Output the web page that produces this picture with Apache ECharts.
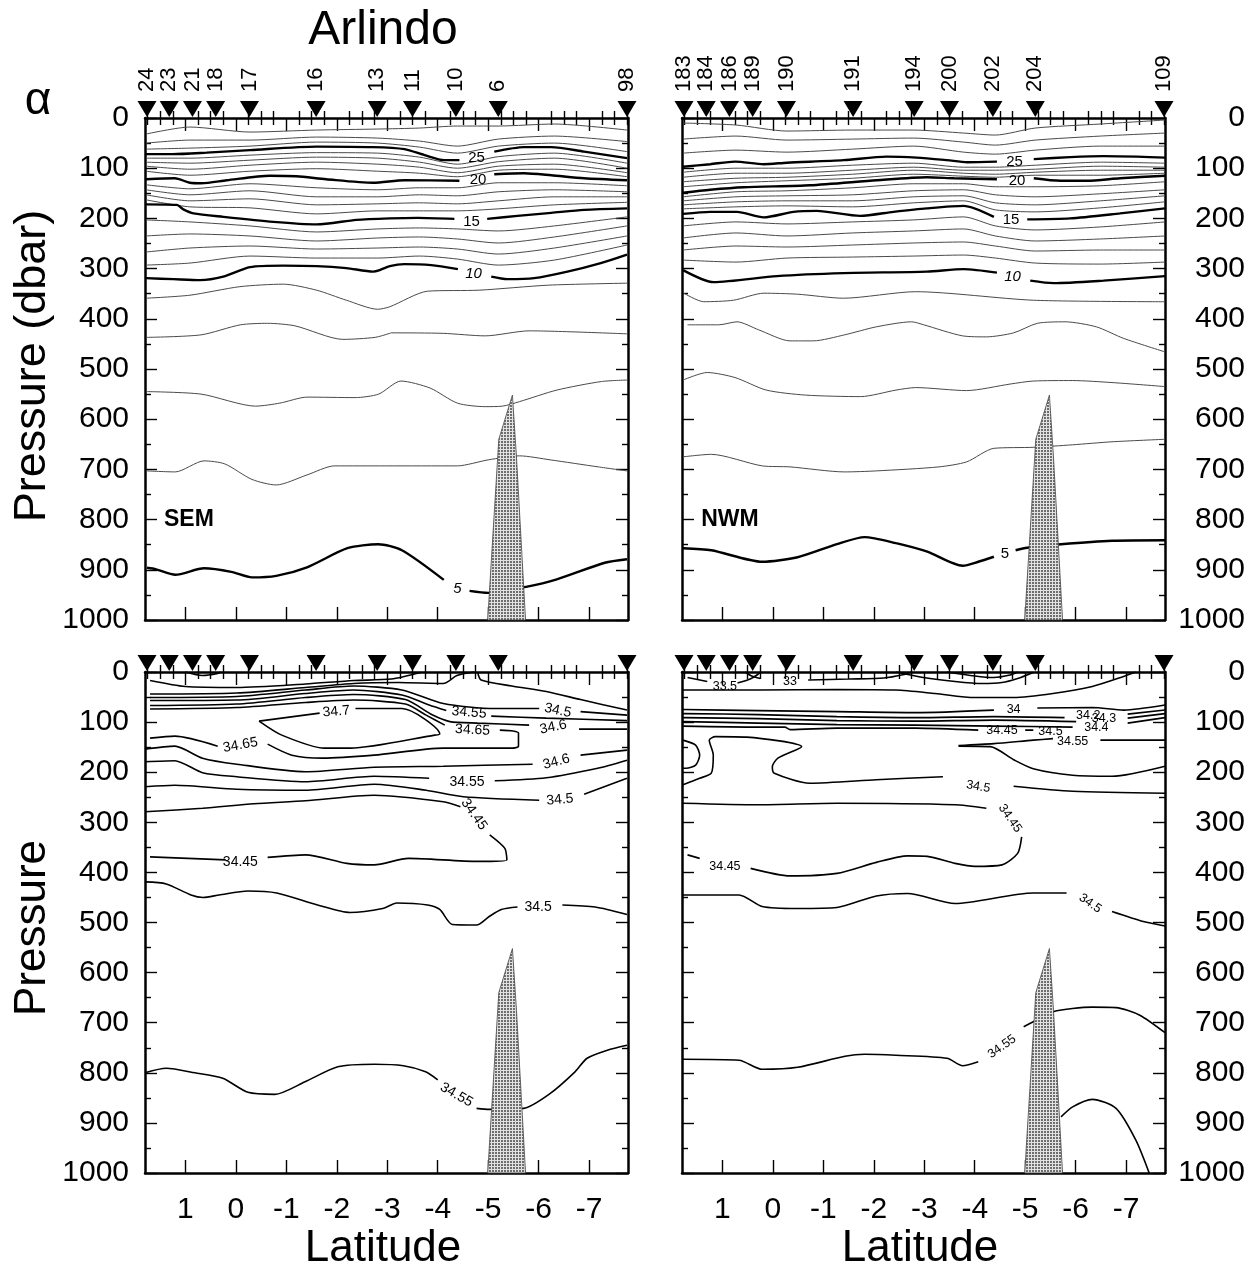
<!DOCTYPE html>
<html><head><meta charset="utf-8">
<script src="https://cdn.jsdelivr.net/npm/echarts@6/dist/echarts.min.js"></script>
<style>html,body{margin:0;padding:0;background:#fff}#c{width:1257px;height:1270px}</style>
</head><body><div id="c"></div>
<script>
// ---------------- DATA ----------------
const LAT_MIN = -7.77, LAT_MAX = 1.8;
const latTickValues = [1, 0, -1, -2, -3, -4, -5, -6, -7];

const stationLat = [1.76, 1.32, 0.86, 0.40, -0.27, -1.59, -2.80, -3.50, -4.36, -5.20, -7.75];
const stationsSEM = ['24', '23', '21', '18', '17', '16', '13', '11', '10', '6', '98'];
const stationsNWM = ['183', '184', '186', '189', '190', '191', '194', '200', '202', '204', '109'];

// sill (topography)
const topoLat = [-4.99, -5.21, -5.48, -5.56, -5.74];
const topoP = [1000, 640, 552, 675, 1000];

// ---- Temperature, SEM (top-left) ----
const tl25 = [[1.78,72],[1.25,72],[0.58,69],[-0.28,64],[-1.60,57],[-2.71,58],[-3.34,62],[-3.74,74],[-4.13,84],[-4.43,84],null,[-5.12,67],[-5.71,58],[-6.25,58],[-6.90,67],[-7.75,80]];
const tl20 = [[1.78,122],[1.21,120],[0.91,129],[0.68,130],[0.18,124],[-0.67,115],[-1.20,116],[-1.79,122],[-2.72,129],[-3.34,124],[-4.43,125],null,[-5.12,112],[-5.71,110],[-6.25,114],[-6.90,120],[-7.75,124]];
const tl15 = [[1.78,172],[1.17,173],[1.04,182],[0.84,190],[0.25,197],[-0.74,207],[-1.60,212],[-2.39,203],[-3.05,200],[-3.60,199],[-4.33,201],null,[-4.98,201],[-5.58,195],[-6.25,189],[-6.90,183],[-7.75,180]];
const tl10 = [[1.78,319],[1.24,321],[0.71,323],[0.25,316],[-0.28,297],[-0.94,294],[-1.60,295],[-2.19,299],[-2.72,306],[-2.85,303],[-3.05,295],[-3.34,291],[-3.87,293],[-4.40,301],null,[-5.06,316],[-5.38,321],[-5.91,319],[-6.57,306],[-7.23,289],[-7.75,272]];
const tl5 = [[1.76,896],[1.58,899],[1.20,910],[0.63,897],[0.09,904],[-0.32,915],[-0.80,912],[-1.41,895],[-2.21,857],[-2.82,849],[-3.29,861],[-4.12,920],null,[-4.63,942],[-5.00,946],[-5.75,934],[-6.36,919],[-7.31,886],[-7.75,879]];
const tl9 = [[1.78,359],[0.91,353],[-0.08,336],[-0.94,331],[-1.60,343],[-2.19,363],[-2.81,381],[-3.05,376],[-3.80,345],[-4.82,343],[-6.19,333],[-7.77,329]];
const tl8 = [[1.76,437],[0.69,432],[-0.09,412],[-0.63,409],[-1.17,414],[-2.12,441],[-2.76,437],[-3.05,429],[-3.08,428],[-4.11,429],[-4.94,434],[-5.81,424],[-7.75,430]];
const tl7 = [[1.76,545],[0.69,550],[-0.39,574],[-0.87,568],[-1.41,556],[-2.36,557],[-2.83,550],[-3.27,524],[-3.85,538],[-4.39,568],[-4.94,575],[-5.28,574],[-5.62,565],[-6.36,542],[-7.24,525],[-7.75,522]];
const tl6 = [[1.76,703],[1.20,705],[0.63,683],[0.22,689],[-0.32,720],[-0.80,731],[-1.41,711],[-1.95,693],[-2.97,693],[-4.39,693],[-5.00,681],[-5.62,673],[-6.23,681],[-7.18,695],[-7.75,703]];
// thin isotherms read at fixed latitudes
const colsTL = [1.78, 0.91, -0.28, -1.60, -2.81, -3.64, -4.39, -5.20, -6.31, -7.75];
const tl28 = [32,18,28,24,22,20,16,16,12,24];
const tl27 = [50,44,44,38,40,46,56,42,36,47];
const tl26 = [62,60,56,48,50,58,70,56,50,67];
const tl24 = [80,80,74,69,70,78,92,77,70,90];
const tl23 = [88,90,84,78,80,88,100,87,80,100];
const tl22 = [96,102,94,88,92,98,109,96,92,109];
const tl21 = [106,114,106,101,106,110,117,104,102,117];
const tl19 = [133,141,131,139,143,139,139,129,129,135];
const tl18 = [143,153,145,157,157,153,155,147,143,147];
const tl17 = [153,165,161,173,171,169,171,165,157,157];
const tl16 = [163,177,179,191,185,185,185,181,173,168];
const tl14 = [203,207,215,227,221,219,221,225,215,197];
const tl13 = [235,231,235,245,239,237,241,249,237,215];
const tl12 = [267,259,255,261,259,257,261,271,259,235];
const tl11 = [293,289,275,279,279,275,281,293,283,253];
const tlLabels = [[-4.77,80,'25'],[-4.80,123,'20'],[-4.67,206,'15'],[-4.71,311,'10',0,'italic'],[-4.39,937,'5',0,'italic']];

// ---- Temperature, NWM (top-right) ----
const tr25 = [[1.78,97],[1.24,92],[0.75,87],[0.18,92],[-0.28,89],[-1.40,84],[-2.25,77],[-2.85,79],[-3.45,84],[-3.85,88],[-4.44,87],null,[-5.17,82],[-5.89,78],[-6.55,76],[-7.21,77],[-7.77,79]];
const tr20 = [[1.78,149],[1.24,143],[0.58,138],[-0.74,134],[-2.06,124],[-3.05,118],[-3.59,120],[-4.44,122],null,[-5.17,120],[-5.70,125],[-6.22,125],[-6.88,120],[-7.77,115]];
const tr15 = [[1.78,191],[1.24,187],[0.71,187],[0.18,198],[-0.41,187],[-0.87,185],[-1.73,195],[-2.39,187],[-3.05,180],[-3.78,175],[-4.38,197],null,[-5.04,202],[-5.89,200],[-6.88,190],[-7.77,180]];
const tr10 = [[1.78,303],[1.17,327],[-0.08,315],[-1.40,309],[-3.05,306],[-3.78,301],[-4.44,308],null,[-5.10,324],[-5.56,329],[-6.55,324],[-7.77,315]];
const tr5 = [[1.78,857],[1.22,861],[0.21,884],[-0.49,875],[-1.27,849],[-1.82,835],[-2.44,847],[-3.06,864],[-3.76,892],[-4.07,884],[-4.38,874],null,[-4.81,861],[-5.04,856],[-5.71,849],[-6.72,842],[-7.77,841]];
const tr9 = [[1.78,348],[1.37,366],[0.78,363],[0.18,349],[-0.49,351],[-1.40,359],[-2.83,346],[-5.16,363],[-7.77,366]];
const tr8 = [[1.69,412],[1.07,412],[0.71,406],[0.28,422],[-0.34,444],[-0.80,444],[-1.42,432],[-2.05,416],[-2.75,406],[-2.99,412],[-3.76,434],[-4.23,436],[-4.77,428],[-5.24,409],[-5.79,406],[-6.41,416],[-6.95,439],[-7.77,466]];
const tr7 = [[1.78,522],[1.30,507],[0.75,517],[0.13,542],[-0.65,552],[-1.74,555],[-2.44,542],[-2.83,537],[-3.84,543],[-4.70,530],[-5.16,524],[-5.94,523],[-6.72,527],[-7.77,535]];
const tr6 = [[1.78,675],[1.22,670],[0.21,693],[-0.34,695],[-1.42,705],[-2.05,703],[-3.29,695],[-3.84,685],[-4.38,658],[-5.16,656],[-5.94,651],[-6.72,645],[-7.77,640]];
const colsTR = [1.78, 0.73, -0.28, -1.58, -2.79, -3.78, -4.41, -5.20, -6.49, -7.77];
const tr28 = [10,14,26,24,24,30,34,20,12,4];
const tr27 = [42,36,44,42,40,48,54,44,36,30];
const tr26 = [70,64,68,62,56,68,72,64,56,56];
const tr24 = [108,100,100,94,90,98,98,94,88,90];
const tr23 = [118,110,110,104,98,104,104,102,96,98];
const tr22 = [127,120,118,112,104,110,112,108,104,104];
const tr21 = [137,129,125,120,112,116,118,114,114,110];
const tr19 = [157,147,145,139,131,131,137,137,135,127];
const tr18 = [165,157,155,153,145,143,153,157,151,143];
const tr17 = [173,167,165,165,157,155,169,173,165,155];
const tr16 = [181,177,175,177,169,165,183,187,179,167];
const tr14 = [215,207,211,207,203,197,215,223,217,207];
const tr13 = [239,229,235,229,225,221,235,245,241,235];
const tr12 = [263,255,257,253,249,247,255,265,263,263];
const tr11 = [283,287,279,277,275,273,279,289,291,287];
const trLabels = [[-4.79,87,'25'],[-4.84,125,'20'],[-4.72,203,'15'],[-4.75,317,'10',0,'italic'],[-4.60,868,'5']];

// ---- Salinity, SEM (bottom-left) ----
const blTop = [[1.70,17],[1.00,29],[-0.02,31],[-1.38,24],[-2.33,17],[-3.08,14],[-3.66,1]];
const blDip = [[1.00,0],[0.66,7],[0.36,3],[0.30,0]];
const blEdge = [[-4.79,0],[-4.86,16],[-5.47,28],[-6.15,39],[-6.83,55],[-7.75,76]];
const blB1 = [[1.70,44],[-0.02,42],[-1.38,31],[-2.33,23],[-3.22,21],[-4.11,23],[-4.38,7],[-4.72,0]];
const bl3450u = [[1.70,51],[-0.02,49],[-1.38,36],[-2.33,28],[-3.29,36],[-4.11,63],[-5.13,73],[-6.01,73],null,[-6.83,79],[-7.75,86]];
const bl3455u = [[1.70,57],[-0.02,56],[-1.38,43],[-2.33,36],[-3.29,46],[-3.83,66],[-4.17,77],null,[-5.06,88],[-6.15,92],[-7.75,97]];
const bl3460u = [[1.70,67],[-0.02,64],[-1.38,51],[-2.33,45],[-3.36,55],[-3.90,86],[-4.24,99],[-4.79,102],[-5.81,106],null,[-6.80,114],[-7.75,114]];
const bl3465 = [[1.70,74],[-0.02,71],[-1.38,61],[-2.33,56],[-3.36,64],[-3.77,86],[-4.14,106],null,[-5.23,116],[-5.60,122],[-5.60,148],[-5.43,152],[-4.11,152],[-2.74,166],[-1.72,172],[-1.11,166],[-0.63,144],null,[0.36,148],[1.21,128],[1.70,132]];
const bl3470 = [[-0.46,98],[-1.66,82],null,[-2.37,73],[-3.29,73],[-4.04,124],[-3.94,126],[-2.27,152],[-1.76,152],[-0.91,126],[-0.46,98]];
const bl3460l = [[1.80,154],[1.21,148],[0.66,172],[-0.02,184],[-1.38,199],[-2.74,190],[-4.11,188],[-5.88,184],null,[-6.83,166],[-7.75,156]];
const bl3455l = [[1.80,179],[1.21,177],[0.66,201],[-0.02,209],[-1.38,219],[-2.74,208],[-3.83,212],null,[-5.13,217],[-6.15,211],[-7.17,192],[-7.75,176]];
const bl3450m = [[1.80,229],[1.21,226],[-0.02,234],[-1.38,236],[-2.74,224],[-3.77,236],[-4.51,249],[-6.01,256],null,[-6.90,244],[-7.75,212]];
const bl3445 = [[1.80,279],[0.66,272],[-0.36,263],[-1.38,257],[-2.74,246],[-4.11,259],[-4.45,269],null,[-5.03,325],[-5.33,352],[-5.37,375],[-4.79,378],[-3.42,372],[-2.74,385],[-2.20,382],[-1.38,365],[-0.63,370],null,[0.20,375],[1.70,369]];
const bl3450l = [[1.80,419],[1.38,423],[0.89,445],[0.65,450],[0.33,445],[-0.24,437],[-0.81,441],[-1.62,465],[-2.26,480],[-2.91,472],[-3.19,461],[-3.80,465],[-4.04,474],[-4.29,504],[-4.77,505],[-5.02,488],[-5.26,474],[-5.58,469],null,[-6.47,465],[-7.12,469],[-7.75,484]];
const bl3455d = [[1.80,800],[1.38,791],[0.81,800],[0.26,811],[-0.24,839],[-0.77,843],[-1.37,818],[-2.02,788],[-2.75,783],[-3.32,786],[-3.76,798],[-4.00,814],null,[-4.77,871],[-5.02,873],[-5.70,871],[-6.23,841],[-6.72,798],[-6.96,771],[-7.36,755],[-7.75,745]];
const blLabels = [[-1.99,79,'34.7',5],[-4.62,81,'34.55',-5],[-6.38,77,'34.5',-12],[-4.69,116,'34.65',-3],[-6.29,110,'34.6',12],[-0.09,146,'34.65',10],[-6.35,179,'34.6',15],[-4.58,219,'34.55'],[-6.42,255,'34.5',5],[-4.72,284,'34.45',-55],[-0.09,379,'34.45'],[-5.99,470,'34.5'],[-4.37,844,'34.55',-30]];

// ---- Salinity, NWM (bottom-right) ----
const brA = [[1.69,11],[1.30,19],null,[0.70,22],[0.45,14],[0.30,5],[0.25,0]];
const brB = [[0.55,0],[0.42,8],[0.25,13],null,[-0.70,16],[-1.50,14],[-2.20,12],[-2.60,5],[-2.75,0]];
const brC = [[-2.44,0],[-2.98,11],[-3.61,19],[-4.15,23],[-4.54,21],[-4.85,13],[-5.16,1]];
const brD = [[-3.45,0],[-4.00,8],[-4.38,11],[-4.70,6],[-4.85,0]];
const brE = [[1.78,36],[0.29,36],[-1.27,35],[-2.44,36],[-3.22,43],[-4.00,51],[-4.77,51],[-5.55,43],[-6.33,29],[-6.95,9],[-7.19,0]];
const br3400 = [[1.78,75],[0.29,77],[-1.27,79],[-2.83,81],[-4.38,76],null,[-5.24,72],[-6.33,71],[-6.95,76],[-7.77,66]];
const br3420 = [[1.78,83],[0.29,85],[-1.27,89],[-2.83,91],[-4.38,89],[-5.78,91],null,[-7.03,84],[-7.77,76]];
const br3430 = [[1.78,91],[0.29,93],[-1.27,97],[-2.83,98],[-4.38,96],[-6.01,99],null,[-7.03,92],[-7.77,83]];
const br3440 = [[1.78,99],[0.29,102],[-1.27,105],[-2.83,106],[-4.38,108],[-5.94,110],null,[-7.03,102],[-7.77,91]];
const br3445u = [[1.78,108],[0.29,110],[-0.24,110],[-0.34,115],[-1.27,112],[-2.83,112],[-4.07,116],null,[-5.00,116],[-5.16,116]];
const brLoop = [[1.78,136],[1.53,146],[1.45,166],[1.53,186],[1.72,192],[1.78,192]];
const br3450u = [[1.78,225],[1.45,212],[1.22,202],[1.18,166],[1.26,136],[1.14,129],[0.52,130],[-0.57,149],[-0.10,172],[0.01,189],[-0.03,202],[-0.73,222],[-2.05,215],[-3.37,209],null,[-4.77,228],[-5.94,238],[-7.77,242]];
const br3455u = [[-3.68,147],[-4.38,143],[-5.16,136],[-5.55,133],null,[-6.49,136],[-7.77,136]];
const br3450b = [[-3.68,148],[-4.31,149],[-4.77,175],[-5.16,193],[-5.94,206],[-6.72,208],[-7.77,188]];
const br3445 = [[1.78,262],[0.29,265],[-1.27,262],[-3.61,265],[-4.23,272],null,[-4.93,329],[-4.85,362],[-4.54,385],[-4.00,388],[-3.61,382],[-3.06,368],[-2.67,367],[-2.05,380],[-1.27,402],[-0.34,407],[0.44,392],null,[1.45,372],[1.69,365]];
const br3450m = [[1.78,445],[0.67,445],[0.21,468],[-0.49,472],[-1.27,470],[-2.05,447],[-2.67,442],[-3.61,462],[-5.16,441],[-5.82,441],null,[-6.72,478],[-7.34,498],[-7.77,507]];
const br3455 = [[1.78,773],[0.67,775],[0.21,793],[-0.49,789],[-1.43,767],[-1.82,763],[-2.44,765],[-3.45,771],[-3.76,786],[-4.07,778],null,[-4.97,708],[-5.16,698],[-5.55,678],[-6.33,669],[-6.80,670],[-7.27,685],[-7.77,720]];
const br3460 = [[-5.71,888],[-5.94,868],[-6.33,853],[-6.80,871],[-7.19,934],[-7.46,1001]];
const brLabels = [[0.95,29,'33.5'],[-0.34,19,'33'],[-4.77,74,'34'],[-6.25,86,'34.2'],[-6.56,92,'34.3'],[-6.41,111,'34.4'],[-4.54,117,'34.45'],[-5.50,118,'34.5'],[-5.94,139,'34.55'],[-4.07,229,'34.5',-10],[-4.70,292,'34.45',-55],[0.95,388,'34.45'],[-6.29,462,'34.5',-35],[-4.54,748,'34.55',35]];

// ---------------- BUILD ----------------
const FONT = '"Liberation Sans", Arial, Helvetica, sans-serif';
const latMinorValues = [];
for (let k = 7; k >= -31; k--) { const v = k * 0.25; if (v % 1 !== 0 && v < LAT_MAX && v > LAT_MIN) latMinorValues.push(v); }

const grids = [
  {left: 145, top: 118, width: 483, height: 502},
  {left: 682, top: 118, width: 483, height: 502},
  {left: 145, top: 672, width: 483, height: 501},
  {left: 682, top: 672, width: 483, height: 501}
];
const frame = {show: true, onZero: false, lineStyle: {color: '#000', width: 2.5}};
const tickLine = {color: '#000', width: 1.4};
const numFmt = v => String(v);
const xAxes = [], yAxes = [];
grids.forEach((g, gi) => {
  const base = {type: 'value', gridIndex: gi, min: LAT_MIN, max: LAT_MAX, inverse: true, splitLine: {show: false}};
  xAxes.push({...base, position: 'bottom', axisLine: frame,
    axisTick: {show: true, inside: true, length: 13, customValues: latTickValues, lineStyle: tickLine},
    axisLabel: {show: gi >= 2, customValues: latTickValues, formatter: numFmt, margin: 22, fontSize: 30, color: '#000', fontFamily: FONT}});
  xAxes.push({...base, position: 'bottom', axisLine: {show: false},
    axisTick: {show: true, inside: true, length: 7, customValues: latMinorValues, lineStyle: tickLine}, axisLabel: {show: false}});
  xAxes.push({...base, position: 'top', axisLine: frame,
    axisTick: {show: true, inside: true, length: 13, customValues: latTickValues, lineStyle: tickLine}, axisLabel: {show: false}});
  xAxes.push({...base, position: 'top', axisLine: {show: false},
    axisTick: {show: true, inside: true, length: 7, customValues: latMinorValues, lineStyle: tickLine}, axisLabel: {show: false}});
  const yb = {type: 'value', gridIndex: gi, min: 0, max: 1000, interval: 100, inverse: true, splitLine: {show: false},
    axisLine: frame, axisTick: {show: true, inside: true, length: 12, lineStyle: tickLine},
    minorTick: {show: true, splitNumber: 2, length: 6, lineStyle: tickLine}};
  yAxes.push({...yb, position: 'left', axisLabel: {show: gi % 2 === 0, formatter: numFmt, margin: 16, fontSize: 30, color: '#000', fontFamily: FONT}});
  yAxes.push({...yb, position: 'right', axisLabel: {show: gi % 2 === 1, formatter: numFmt, margin: 80, align: 'right', fontSize: 30, color: '#000', fontFamily: FONT}});
});

const series = [];
function addLine(panel, pts, width, color) {
  let seg = [];
  const flush = () => {
    if (seg.length > 1) series.push({type: 'line', xAxisIndex: panel * 4, yAxisIndex: panel * 2, data: seg,
      showSymbol: false, symbol: 'none', smooth: 0.25, silent: true, z: 2, animation: false,
      lineStyle: {width: width, color: color}});
    seg = [];
  };
  pts.forEach(p => { if (p === null) flush(); else seg.push(p); });
  flush();
}
function zip(cols, ps) { return cols.map((c, i) => [c, ps[i]]); }
const solid = {color: '#000', opacity: 1};
function addLabels(panel, items, size) {
  series.push({type: 'scatter', xAxisIndex: panel * 4, yAxisIndex: panel * 2, symbolSize: 0, silent: true, z: 6, animation: false,
    itemStyle: solid,
    data: items.map(it => ({value: [it[0], it[1]], label: {show: true, position: 'inside', formatter: it[2], rotate: it[3] || 0,
      fontSize: size, fontStyle: it[4] || 'normal', color: '#000', opacity: 1, textBorderWidth: 0, fontFamily: FONT}}))});
}
function addStations(panel, names) {
  series.push({type: 'scatter', xAxisIndex: panel * 4, yAxisIndex: panel * 2, clip: false, silent: true, z: 8, animation: false,
    symbol: 'path://M0,0L20,0L10,18Z', symbolSize: [19, 16], symbolOffset: [0, -9], itemStyle: solid,
    data: stationLat.map(la => [la, 0])});
  if (names) series.push({type: 'scatter', xAxisIndex: panel * 4, yAxisIndex: panel * 2, clip: false, silent: true, z: 8, animation: false,
    symbolSize: 0, itemStyle: solid,
    data: stationLat.map((la, i) => ({value: [la, 0], label: {show: true, formatter: names[i], position: 'top', distance: 26,
      rotate: 90, align: 'left', verticalAlign: 'middle', fontSize: 22, color: '#000', opacity: 1, textBorderWidth: 0, fontFamily: FONT}}))});
}
// stipple pattern for the sill
const pat = document.createElement('canvas'); pat.width = 3; pat.height = 3;
const pc = pat.getContext('2d'); pc.fillStyle = '#e2e2e2'; pc.fillRect(0, 0, 3, 3);
pc.fillStyle = '#6e6e6e'; pc.fillRect(0, 0, 2, 2);
function addTopo(panel) {
  series.push({type: 'custom', xAxisIndex: panel * 4, yAxisIndex: panel * 2, silent: true, z: 5, animation: false,
    data: [[topoLat[0], topoP[0]]],
    renderItem: (params, api) => ({type: 'polygon',
      shape: {points: topoLat.map((la, i) => api.coord([la, topoP[i]]))},
      style: {fill: {image: pat, repeat: 'repeat'}, stroke: '#444', lineWidth: 0.8}})});
}

const BOLD = 2.4, THIN = 1, THINC = '#4a4a4a', SAL = 1.6;
// top-left
[tl28, tl27, tl26, tl24, tl23, tl22, tl21, tl19, tl18, tl17, tl16, tl14, tl13, tl12, tl11].forEach(a => addLine(0, zip(colsTL, a), THIN, THINC));
[tl9, tl8, tl7, tl6].forEach(a => addLine(0, a, THIN, THINC));
[tl25, tl20, tl15, tl10, tl5].forEach(a => addLine(0, a, BOLD, '#000'));
addLabels(0, tlLabels, 15);
// top-right
[tr28, tr27, tr26, tr24, tr23, tr22, tr21, tr19, tr18, tr17, tr16, tr14, tr13, tr12, tr11].forEach(a => addLine(1, zip(colsTR, a), THIN, THINC));
[tr9, tr8, tr7, tr6].forEach(a => addLine(1, a, THIN, THINC));
[tr25, tr20, tr15, tr10, tr5].forEach(a => addLine(1, a, BOLD, '#000'));
addLabels(1, trLabels, 15);
// bottom-left
[blTop, blDip, blEdge, blB1, bl3450u, bl3455u, bl3460u, bl3465, bl3470, bl3460l, bl3455l, bl3450m, bl3445, bl3450l, bl3455d].forEach(a => addLine(2, a, SAL, '#000'));
addLabels(2, blLabels, 14);
// bottom-right
[brA, brB, brC, brD, brE, br3400, br3420, br3430, br3440, br3445u, brLoop, br3450u, br3455u, br3450b, br3445, br3450m, br3455, br3460].forEach(a => addLine(3, a, SAL, '#000'));
addLabels(3, brLabels, 12.5);

[0, 1, 2, 3].forEach(addTopo);
addStations(0, stationsSEM); addStations(1, stationsNWM); addStations(2, null); addStations(3, null);
// region tags
series.push({type: 'scatter', xAxisIndex: 0, yAxisIndex: 0, symbolSize: 0, silent: true, itemStyle: solid,
  data: [{value: [0.93, 800], label: {show: true, position: 'inside', formatter: 'SEM', fontSize: 23, fontWeight: 'bold', color: '#000', opacity: 1, textBorderWidth: 0, fontFamily: FONT}}]});
series.push({type: 'scatter', xAxisIndex: 4, yAxisIndex: 2, symbolSize: 0, silent: true, itemStyle: solid,
  data: [{value: [0.85, 800], label: {show: true, position: 'inside', formatter: 'NWM', fontSize: 23, fontWeight: 'bold', color: '#000', opacity: 1, textBorderWidth: 0, fontFamily: FONT}}]});

function txt(text, x, y, size, rot) {
  return {type: 'text', x: x, y: y, rotation: rot || 0, silent: true,
    style: {text: text, font: size + 'px ' + FONT, fill: '#000', align: 'center', verticalAlign: 'middle', textAlign: 'center', textVerticalAlign: 'middle'}};
}
const chart = echarts.init(document.getElementById('c'), null, {renderer: 'canvas'});
chart.setOption({
  animation: false,
  backgroundColor: '#fff',
  grid: grids.map(g => ({...g, show: false, containLabel: false})),
  xAxis: xAxes, yAxis: yAxes, series: series,
  graphic: [
    txt('Arlindo', 383, 31, 48),
    txt('α', 38, 101, 46),
    txt('Pressure (dbar)', 33, 366, 45, Math.PI / 2),
    txt('Pressure', 33, 928, 44, Math.PI / 2),
    txt('Latitude', 383, 1249, 44),
    txt('Latitude', 920, 1249, 44)
  ]
});
</script></body></html>
